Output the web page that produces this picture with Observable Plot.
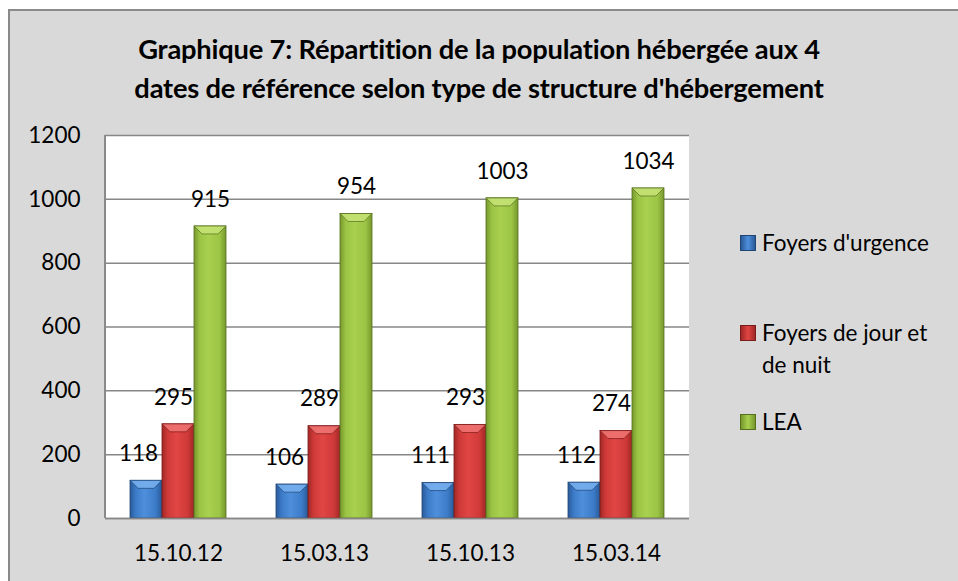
<!DOCTYPE html>
<html><head><meta charset="utf-8">
<script src="https://cdn.jsdelivr.net/npm/d3@7"></script>
<script src="https://cdn.jsdelivr.net/npm/@observablehq/plot@0.6"></script>
<style>
body{margin:0;background:#fff;}
#chart{position:relative;width:958px;height:581px;overflow:hidden;font-family:Lato,sans-serif;color:#000;}
#frame{position:absolute;left:8px;top:9px;width:970px;height:590px;background:#d9d9d9;border-left:2px solid #8a8a8a;border-top:2px solid #8a8a8a;}
#plotbg{position:absolute;left:104px;top:135px;width:585px;height:383px;background:#fff;border-left:2px solid #8a8a8a;box-sizing:border-box;}
#title{position:absolute;left:0;top:29px;width:958px;text-align:center;font-weight:bold;font-size:27.3px;line-height:39px;letter-spacing:-0.2px;}
#plot{position:absolute;left:0;top:0;}
#legend{position:absolute;left:740px;top:227px;width:210px;font-size:22.5px;line-height:32px;}
.item{display:flex;align-items:flex-start;}
.sw{width:16px;height:16px;margin-top:8px;margin-right:6px;flex:none;box-sizing:border-box;}
.lt{width:190px;}
</style>
</head><body>
<div id="chart">
  <div id="frame"></div>
  <div id="plotbg"></div>
  <div id="title">Graphique 7: Répartition de la population hébergée aux 4<br>dates de référence selon type de structure d'hébergement</div>
  <div id="plot"></div>
  <div id="legend"></div>
</div>
<script>
const dates = ["15.10.12", "15.03.13", "15.10.13", "15.03.14"];
const series = ["Foyers d'urgence", "Foyers de jour et de nuit", "LEA"];
const urgence = [118, 106, 111, 112];
const jourNuit = [295, 289, 293, 274];
const lea = [915, 954, 1003, 1034];
const yTicks = [0, 200, 400, 600, 800, 1000, 1200];

const colEdge = ["#2a5a98", "#a02826", "#76982c"];
const colMid = ["#3c7bc8", "#cf3a38", "#9cc445"];
const colLight = ["#4e8fdc", "#e04644", "#a9d04f"];
const colStroke = ["#1f4676", "#7a1c1a", "#56701e"];
const colBevel = ["#79b2f0", "#f07674", "#c6e477"];
const labelDx = [-8, -5, 0];
const legendGap = [0, 58, 25];

const data = [];
[urgence, jourNuit, lea].forEach((vals, si) =>
  vals.forEach((v, i) => data.push({date: dates[i], series: series[si], si, value: v})));

const plot = Plot.plot({
  width: 958, height: 581,
  marginLeft: 105, marginRight: 269, marginTop: 135, marginBottom: 63,
  style: {fontFamily: "Lato, sans-serif", fontSize: "22.5px", color: "#000", background: "transparent", overflow: "visible"},
  fx: {domain: dates, padding: 0, label: null, axis: "bottom", tickSize: 0, tickPadding: 27},
  x: {domain: series, paddingInner: 0, paddingOuter: 0.75, axis: null},
  y: {domain: [0, 1200], ticks: yTicks, tickSize: 0, tickPadding: 25, label: null, tickFormat: d => String(d)},
  marks: [
    Plot.gridY(yTicks, {stroke: "#878787", strokeOpacity: 1, strokeWidth: 1.5}),
    ...series.map((s, si) => Plot.barY(data.filter(d => d.si === si), {
      fx: "date", x: "series", y: "value",
      fill: `url(#grad${si})`, stroke: colStroke[si], strokeWidth: 0.8
    })),
    Plot.ruleY([0], {stroke: "#878787", strokeWidth: 1.5}),
    ...series.map((s, si) => Plot.text(data.filter(d => d.si === si), {
      fx: "date", x: "series", y: "value", text: d => String(d.value),
      dy: -27, dx: labelDx[si], fill: "#000", fontSize: 22.5
    }))
  ]
});

// gradients
const svg = d3.select(plot);
const defs = svg.insert("defs", ":first-child");
series.forEach((s, si) => {
  const g = defs.append("linearGradient").attr("id", `grad${si}`).attr("x1", "0").attr("x2", "1").attr("y1", "0").attr("y2", "0");
  [[0, colEdge[si]], [0.18, colMid[si]], [0.45, colLight[si]], [0.8, colMid[si]], [1, colEdge[si]]]
    .forEach(([o, c]) => g.append("stop").attr("offset", o).attr("stop-color", c));
});
// top bevel derived from rendered bars
svg.selectAll('g[aria-label="bar"]').each(function(_, gi) {
  d3.select(this).selectAll("rect").each(function() {
    const r = d3.select(this);
    const x = +r.attr("x"), y = +r.attr("y"), w = +r.attr("width");
    const b = w * 0.25;
    d3.select(this.parentNode).append("polygon")
      .attr("points", `${x},${y} ${x + w},${y} ${x + w - b},${y + b} ${x + b},${y + b}`)
      .attr("fill", colBevel[gi % 3]).attr("opacity", 0.85);
  });
});
document.getElementById("plot").appendChild(plot);

// legend
const leg = document.getElementById("legend");
series.forEach((s, si) => {
  const it = document.createElement("div");
  it.className = "item";
  it.style.marginTop = legendGap[si] + "px";
  const sw = document.createElement("div");
  sw.className = "sw";
  sw.style.background = `linear-gradient(to right, ${colEdge[si]}, ${colLight[si]} 50%, ${colEdge[si]})`;
  sw.style.border = `1px solid ${colStroke[si]}`;
  const t = document.createElement("div");
  t.className = "lt";
  t.textContent = s;
  it.appendChild(sw); it.appendChild(t);
  leg.appendChild(it);
});
</script>
</body></html>
